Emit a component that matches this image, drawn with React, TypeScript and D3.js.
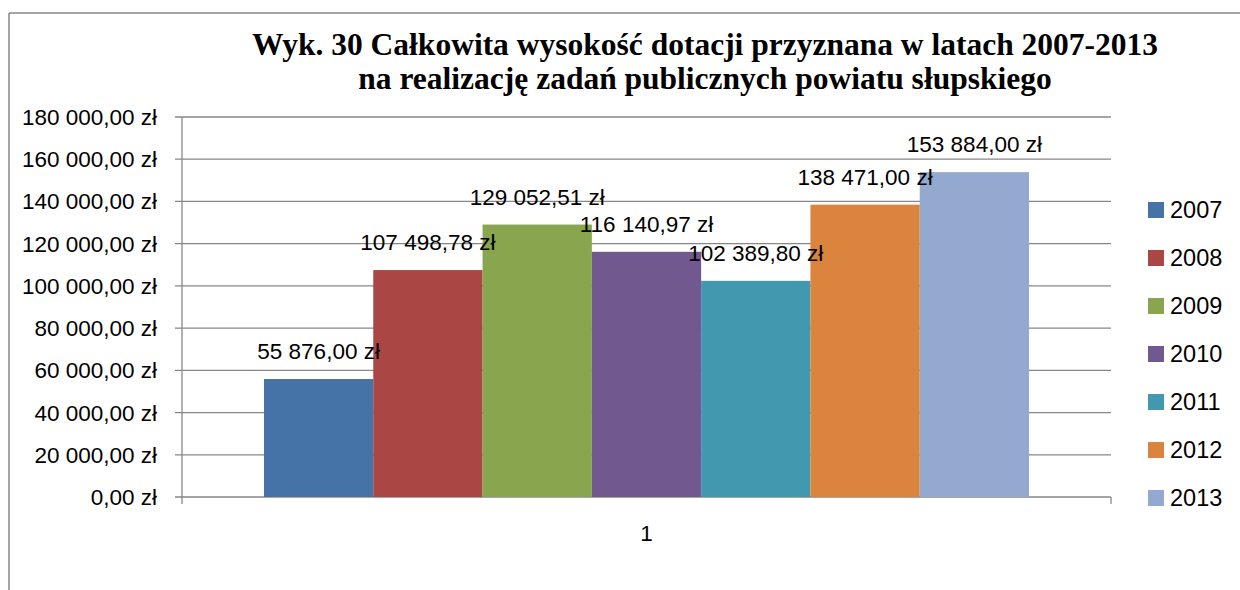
import React from "react";
import * as d3 from "d3";

const years = ["2007", "2008", "2009", "2010", "2011", "2012", "2013"];
const values = [55876.0, 107498.78, 129052.51, 116140.97, 102389.8, 138471.0, 153884.0];
const colors = ["#4572A7", "#AA4643", "#89A54E", "#71588F", "#4198AF", "#DB843D", "#93A9CF"];
const yTicks = [0, 20000, 40000, 60000, 80000, 100000, 120000, 140000, 160000, 180000];
const categories = ["1"];
const titleLines = [
  "Wyk. 30 Całkowita wysokość dotacji przyznana w latach 2007-2013",
  "na realizację zadań publicznych powiatu słupskiego",
];

const W = 1240;
const H = 590;
const plot = { left: 182, right: 1111, top: 117, bottom: 497 };
const FONT = "'Liberation Sans', Arial, sans-serif";
const GRID = "#878787";
const FS = 22.5;

const fmt = (v: number) => {
  const s = v.toFixed(2);
  const [intPart, dec] = s.split(".");
  const withSpaces = intPart.replace(/\B(?=(\d{3})+(?!\d))/g, " ");
  return `${withSpaces},${dec} zł`;
};

export default function App() {
  const y = d3.scaleLinear().domain([0, 180000]).range([plot.bottom, plot.top]);
  const xCat = d3.scaleBand().domain(categories).range([plot.left, plot.right]);
  const groupWidth = xCat.bandwidth();
  const barW = groupWidth / (years.length + 1.5);
  const inner = d3
    .scaleBand()
    .domain(years)
    .range([xCat("1")! + barW * 0.75, xCat("1")! + groupWidth - barW * 0.75])
    .padding(0);

  return (
    <svg
      width={W}
      height={H}
      style={{ position: "absolute", left: 0, top: 0, background: "#fff" }}
      fontFamily={FONT}
    >
      {/* frame */}
      <line x1={9} y1={13} x2={W} y2={13} stroke={GRID} strokeWidth={1.5} />
      <line x1={9} y1={13} x2={9} y2={H} stroke={GRID} strokeWidth={1.5} />

      {/* title */}
      {titleLines.map((t, i) => (
        <text
          key={i}
          x={705}
          y={55 + i * 34}
          textAnchor="middle"
          fontFamily="'Liberation Serif', 'Times New Roman', serif"
          fontWeight="bold"
          fontSize={31.5}
          fill="#000"
        >
          {t}
        </text>
      ))}

      {/* gridlines and y ticks */}
      {yTicks.map((t) => (
        <g key={t}>
          <line x1={plot.left - 7} x2={plot.right} y1={y(t)} y2={y(t)} stroke={GRID} strokeWidth={1.3} />
          <text x={157} y={y(t) + 8} textAnchor="end" fontSize={FS} fill="#000">
            {fmt(t)}
          </text>
        </g>
      ))}

      {/* y axis */}
      <line x1={plot.left} x2={plot.left} y1={plot.top} y2={plot.bottom + 7} stroke={GRID} strokeWidth={1.3} />
      {/* x tick at right */}
      <line x1={plot.right} x2={plot.right} y1={plot.bottom} y2={plot.bottom + 7} stroke={GRID} strokeWidth={1.3} />

      {/* bars */}
      {years.map((yr, i) => (
        <rect
          key={yr}
          x={inner(yr)}
          y={y(values[i])}
          width={inner.bandwidth()}
          height={plot.bottom - y(values[i])}
          fill={colors[i]}
        />
      ))}

      {/* labels */}
      {years.map((yr, i) => (
        <text
          key={yr}
          x={inner(yr)! + inner.bandwidth() / 2}
          y={y(values[i]) - 20}
          textAnchor="middle"
          fontSize={FS}
          fill="#000"
        >
          {fmt(values[i])}
        </text>
      ))}

      {/* category label */}
      {categories.map((c) => (
        <text key={c} x={xCat(c)! + groupWidth / 2} y={541} textAnchor="middle" fontSize={FS} fill="#000">
          {c}
        </text>
      ))}

      {/* legend */}
      {years.map((yr, i) => (
        <g key={yr} transform={`translate(1148, ${210 + i * 48})`}>
          <rect x={0} y={-8} width={16} height={16} fill={colors[i]} />
          <text x={22} y={8} fontSize={23.5} fill="#000">
            {yr}
          </text>
        </g>
      ))}
    </svg>
  );
}
